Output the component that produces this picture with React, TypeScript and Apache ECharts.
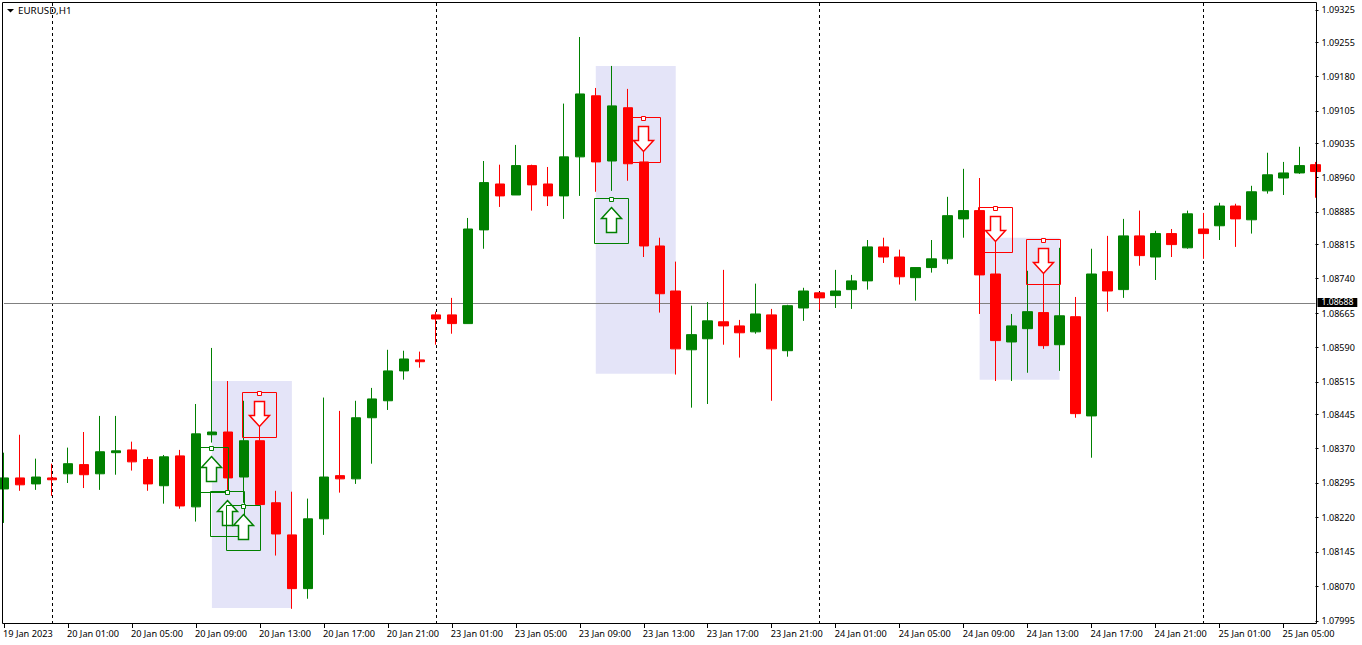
import React, { useEffect, useRef } from "react";
import * as echarts from "echarts";

const FONT = '"Noto Sans", sans-serif';
const UP = "#008000";
const DOWN = "#ff0000";
const SHADE = "#e4e4f8";

const xTickLabels = [
  "19 Jan 2023", "20 Jan 01:00", "20 Jan 05:00", "20 Jan 09:00", "20 Jan 13:00", "20 Jan 17:00", "20 Jan 21:00",
  "23 Jan 01:00", "23 Jan 05:00", "23 Jan 09:00", "23 Jan 13:00", "23 Jan 17:00", "23 Jan 21:00",
  "24 Jan 01:00", "24 Jan 05:00", "24 Jan 09:00", "24 Jan 13:00", "24 Jan 17:00", "24 Jan 21:00",
  "25 Jan 01:00", "25 Jan 05:00",
];

const yTickValues = [
  1.09325, 1.09255, 1.0918, 1.09105, 1.09035, 1.0896, 1.08885, 1.08815, 1.0874, 1.08665,
  1.0859, 1.08515, 1.08445, 1.0837, 1.08295, 1.0822, 1.08145, 1.0807, 1.07995,
];

// open, close, low, high
const candles: number[][] = [
  [1.08282, 1.08306, 1.08208, 1.08361], [1.08306, 1.08291, 1.08278, 1.084], [1.08293, 1.08308, 1.0828, 1.08348],
  [1.08306, 1.08302, 1.08267, 1.08337], [1.08315, 1.08337, 1.08295, 1.08372], [1.08335, 1.08313, 1.08284, 1.08406],
  [1.08315, 1.08363, 1.0828, 1.08441], [1.08361, 1.08365, 1.08313, 1.08441], [1.08367, 1.08341, 1.08322, 1.08385],
  [1.08346, 1.08293, 1.08278, 1.08352], [1.08289, 1.08352, 1.0825, 1.08356], [1.08354, 1.08245, 1.08239, 1.08367],
  [1.08243, 1.08402, 1.08211, 1.08467], [1.084, 1.08406, 1.08383, 1.08589], [1.08406, 1.08306, 1.0828, 1.08517],
  [1.08308, 1.08387, 1.08252, 1.08474], [1.08387, 1.08248, 1.08248, 1.08417], [1.08252, 1.08184, 1.08137, 1.08278],
  [1.08182, 1.08065, 1.08021, 1.08276], [1.08065, 1.08217, 1.08043, 1.08261], [1.08217, 1.08308, 1.08182, 1.08481],
  [1.08311, 1.08304, 1.08274, 1.08452], [1.08304, 1.08437, 1.08293, 1.08474], [1.08437, 1.08478, 1.08337, 1.08502],
  [1.08474, 1.08539, 1.08454, 1.08585], [1.08539, 1.08565, 1.0852, 1.08583], [1.08563, 1.08559, 1.08546, 1.08581],
  [1.08661, 1.08652, 1.08596, 1.08668], [1.08661, 1.08642, 1.0862, 1.08698], [1.08642, 1.08848, 1.08642, 1.08872],
  [1.08846, 1.08949, 1.08805, 1.08996], [1.08946, 1.0892, 1.08896, 1.08988], [1.08922, 1.08986, 1.08922, 1.09031],
  [1.08986, 1.08944, 1.08888, 1.08988], [1.08946, 1.0892, 1.08898, 1.08983], [1.0892, 1.09005, 1.0887, 1.09121],
  [1.09005, 1.09142, 1.0892, 1.09266], [1.09138, 1.08994, 1.08929, 1.09155], [1.08996, 1.09116, 1.08931, 1.09203],
  [1.09112, 1.0899, 1.08953, 1.09153], [1.08994, 1.08811, 1.08787, 1.0902], [1.08811, 1.08707, 1.08666, 1.08829],
  [1.08713, 1.08587, 1.08531, 1.08777], [1.08585, 1.08618, 1.08459, 1.08681], [1.08609, 1.08648, 1.08467, 1.08689],
  [1.08646, 1.08637, 1.08596, 1.08759], [1.08637, 1.08622, 1.08568, 1.0865], [1.08624, 1.08663, 1.0862, 1.08729],
  [1.08661, 1.08587, 1.08474, 1.08674], [1.08583, 1.08681, 1.0857, 1.08683], [1.08676, 1.08713, 1.08648, 1.0872],
  [1.08709, 1.08698, 1.08672, 1.08709], [1.08703, 1.08713, 1.08676, 1.08759], [1.08716, 1.08735, 1.08674, 1.08748],
  [1.08735, 1.08809, 1.08716, 1.08824], [1.08809, 1.08787, 1.08774, 1.08829], [1.08787, 1.08744, 1.08727, 1.08803],
  [1.08742, 1.08764, 1.08692, 1.08764], [1.08764, 1.08783, 1.08753, 1.08824], [1.08783, 1.08877, 1.08772, 1.08918],
  [1.0887, 1.08888, 1.08829, 1.08979], [1.08888, 1.08748, 1.08663, 1.08959], [1.0875, 1.08605, 1.08517, 1.08824],
  [1.08602, 1.08637, 1.08517, 1.08663], [1.08631, 1.08668, 1.08535, 1.08757], [1.08666, 1.08594, 1.08587, 1.08753],
  [1.08596, 1.08659, 1.08539, 1.08807], [1.08657, 1.08446, 1.08437, 1.087], [1.08441, 1.0875, 1.0835, 1.08805],
  [1.08755, 1.08713, 1.08668, 1.08833], [1.08716, 1.08833, 1.08698, 1.0887], [1.08833, 1.0879, 1.08768, 1.08888],
  [1.08787, 1.08838, 1.08737, 1.08844], [1.08838, 1.08814, 1.08787, 1.08848], [1.08807, 1.08881, 1.08805, 1.08888],
  [1.08848, 1.08838, 1.08783, 1.08883], [1.08855, 1.08898, 1.08824, 1.08905], [1.08898, 1.0887, 1.08809, 1.08903],
  [1.08868, 1.08929, 1.08838, 1.08942], [1.08931, 1.08966, 1.08925, 1.09014], [1.08959, 1.0897, 1.08922, 1.08994],
  [1.0897, 1.08986, 1.08968, 1.09027], [1.08988, 1.08973, 1.08916, 1.08994],
];

const categories = candles.map((_, i) => (i % 4 === 0 ? xTickLabels[i / 4] : `bar ${i}`));

const lastPriceLabel = "1.08688";
const lastPriceLevel = 1.08686;
const sessionBars = [3, 27, 51, 75];

// from bar, to bar, upper price, lower price
const shadedZones = [
  [13, 18, 1.08517, 1.08023],
  [37, 42, 1.09203, 1.08533],
  [61, 66, 1.08829, 1.0852],
];

// bar, price of the box top, direction (1 = buy, -1 = sell)
const signals = [
  [16, 1.08494, -1],
  [13, 1.08374, 1],
  [14, 1.08278, 1],
  [15, 1.08248, 1],
  [40, 1.09092, -1],
  [38, 1.08916, 1],
  [62, 1.08896, -1],
  [65, 1.08827, -1],
];

function renderSignal(_params: any, api: any) {
  const dir = api.value(2);
  const p = api.coord([api.value(0), api.value(1)]);
  const x = Math.floor(p[0]) + 0.5;
  const top = Math.round(p[1]) + 0.5;
  const color = dir > 0 ? UP : DOWN;
  const a = top + 9;
  const arrow =
    dir > 0
      ? [[x, a], [x + 10, a + 11], [x + 5, a + 11], [x + 5, a + 25], [x - 5, a + 25], [x - 5, a + 11], [x - 10, a + 11]]
      : [[x - 5, a], [x + 5, a], [x + 5, a + 14], [x + 10, a + 14], [x, a + 25], [x - 10, a + 14], [x - 5, a + 14]];
  return {
    type: "group",
    children: [
      { type: "rect", shape: { x: x - 17, y: top, width: 34, height: 45 }, style: { fill: "none", stroke: color, lineWidth: 1 } },
      { type: "rect", shape: { x: x - 2, y: top - 1, width: 4, height: 4 }, style: { fill: "#fff", stroke: color, lineWidth: 1 } },
      { type: "polygon", shape: { points: arrow }, style: { fill: "#fff", stroke: color, lineWidth: 1.5 } },
    ],
  };
}

export default function App() {
  const ref = useRef<HTMLDivElement>(null);
  useEffect(() => {
    document.body.style.margin = "0";
    const chart = echarts.init(ref.current!, undefined, { renderer: "svg" });
    chart.setOption({
      animation: false,
      backgroundColor: "#fff",
      textStyle: { fontFamily: FONT },
      title: {
        text: "EURUSD,H1",
        left: 18,
        top: 5,
        padding: 0,
        textStyle: { fontFamily: FONT, fontSize: 9.8, fontWeight: "normal", color: "#000" },
      },
      grid: { left: 3.5, top: 3, width: 1312, height: 621 },
      xAxis: {
        type: "category",
        data: categories,
        boundaryGap: false,
        axisLine: { show: false },
        axisTick: { show: true, interval: 3, length: 4, lineStyle: { color: "#000" } },
        axisLabel: {
          interval: 3,
          align: "left",
          margin: 5,
          padding: [0, 0, 0, -1],
          fontFamily: FONT,
          fontSize: 9.2,
          color: "#000",
          hideOverlap: false,
        },
        splitLine: { show: false },
      },
      yAxis: {
        type: "value",
        position: "right",
        min: 1.07988,
        max: 1.0934,
        axisLine: { show: false },
        axisTick: { show: true, length: 3, customValues: yTickValues, lineStyle: { color: "#000" } },
        axisLabel: {
          customValues: yTickValues,
          formatter: (v: number) => v.toFixed(5),
          margin: 6,
          lineHeight: 9,
          padding: [4, 0, 0, 0],
          fontFamily: FONT,
          fontSize: 9,
          color: "#000",
          showMinLabel: true,
          showMaxLabel: true,
        },
        splitLine: { show: false },
      },
      series: [
        {
          type: "candlestick",
          data: candles,
          barWidth: 10,
          clip: true,
          silent: true,
          itemStyle: { color: UP, color0: DOWN, borderColor: UP, borderColor0: DOWN, borderWidth: 1 },
          markArea: {
            silent: true,
            z: 0,
            itemStyle: { color: SHADE },
            data: shadedZones.map(([from, to, hi, lo]) => [
              { xAxis: categories[from], yAxis: hi },
              { xAxis: categories[to], yAxis: lo },
            ]),
          },
          markLine: {
            silent: true,
            z: 1,
            symbol: "none",
            precision: 5,
            data: [
              ...sessionBars.map((b) => ({
                xAxis: categories[b],
                lineStyle: { color: "#000", type: [3, 3], width: 1 },
                label: { show: false },
              })),
              {
                yAxis: lastPriceLevel,
                lineStyle: { color: "#808080", type: "solid", width: 1 },
                label: {
                  show: true,
                  position: "end",
                  distance: 2,
                  offset: [0, -1],
                  formatter: lastPriceLabel,
                  color: "#fff",
                  backgroundColor: "#000",
                  lineHeight: 9,
                  padding: [0, 4, 0, 4],
                  fontFamily: FONT,
                  fontSize: 8.6,
                },
              },
            ],
          },
        },
        {
          type: "custom",
          data: signals,
          renderItem: renderSignal,
          encode: { x: 0, y: 1 },
          clip: false,
          silent: true,
          z: 5,
        },
      ],
      graphic: [
        {
          type: "rect",
          z: 20,
          silent: true,
          shape: { x: 2.5, y: 2.5, width: 1314, height: 621 },
          style: { fill: "none", stroke: "#000", lineWidth: 1 },
        },
        {
          type: "polygon",
          z: 20,
          silent: true,
          shape: { points: [[7, 9], [14, 9], [10.5, 12.5]] },
          style: { fill: "#000" },
        },
      ],
    });
    return () => chart.dispose();
  }, []);
  return <div ref={ref} style={{ width: 1362, height: 645 }} />;
}
